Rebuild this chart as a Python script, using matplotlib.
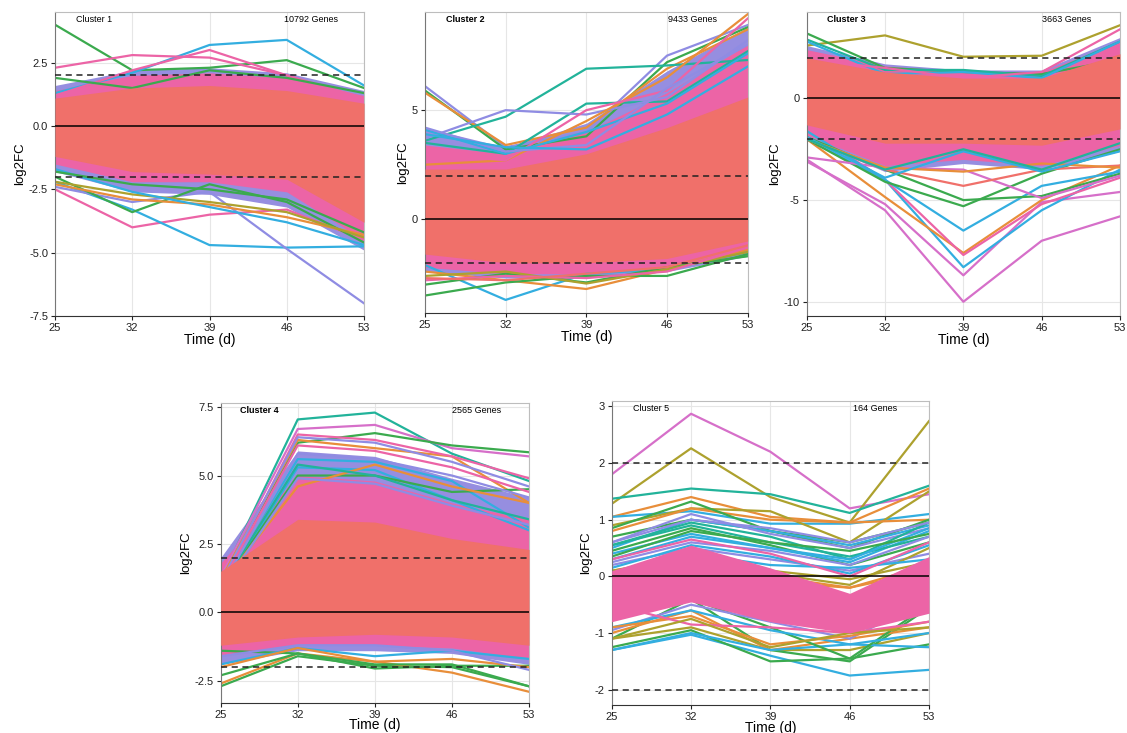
import matplotlib
matplotlib.use("Agg")
import matplotlib.pyplot as plt

plt.rcParams['font.family'] = ['Liberation Sans', 'DejaVu Sans']
plt.rcParams['axes.unicode_minus'] = False

time = [25, 32, 39, 46, 53]

# palette
SALMON = '#F0706A'
PINK = '#EC64A6'
PURPLE = '#968EE0'
col = {'g': '#3BAA4E', 'o': '#E88E3A', 'y': '#ADA12E', 't': '#22B39A',
       'c': '#33AEE0', 'p': '#8F8CE3', 'k': '#EC64A6', 'm': '#D66FC9', 's': '#F0706A'}

# ---- Cluster 1 ----
c1_core_lo = [-1.2, -1.8, -1.9, -2.1, -3.8]
c1_core_hi = [1.1, 1.5, 1.6, 1.4, 0.9]
c1_edge_lo = [-1.5, -2.2, -2.2, -2.6, -4.5]
c1_edge_hi = [1.4, 2.0, 2.1, 1.9, 1.2]
c1_outer_lo = [-1.8, -2.6, -2.7, -3.2, -4.9]
c1_outer_hi = [1.6, 2.2, 2.3, 2.1, 1.4]
c1_lines = [[4.0, 2.2, 2.3, 2.6, 1.5], [1.3, 2.1, 3.2, 3.4, 1.6], [2.3, 2.8, 2.7, 2.0, 1.1],
            [1.2, 2.2, 3.0, 2.0, 1.0], [1.9, 1.5, 2.2, 1.9, 1.3],
            [-2.5, -4.0, -3.5, -3.3, -4.5], [-2.2, -3.3, -4.7, -4.8, -4.75],
            [-2.4, -3.0, -2.6, -4.85, -7.0], [-2.0, -3.4, -2.3, -3.0, -4.6],
            [-2.3, -2.9, -3.1, -3.6, -4.3], [-2.2, -2.7, -3.0, -3.4, -4.4],
            [-1.7, -2.6, -3.2, -3.8, -4.7], [-1.8, -2.3, -2.5, -2.9, -4.2]]
c1_colors = ['g', 'c', 'k', 'k', 'g', 'k', 'c', 'p', 'g', 'o', 'y', 'c', 'g']

# ---- Cluster 2 ----
c2_core_lo = [-1.6, -2.0, -2.0, -1.8, -1.0]
c2_core_hi = [2.3, 2.3, 3.0, 4.2, 5.6]
c2_edge_lo = [-2.2, -2.5, -2.5, -2.2, -1.5]
c2_edge_hi = [3.4, 3.0, 4.0, 5.8, 8.0]
c2_outer_lo = [-2.4, -2.7, -2.7, -2.4, -1.7]
c2_outer_hi = [4.2, 3.3, 4.4, 6.8, 8.8]
c2_lines = [[6.1, 3.3, 4.0, 7.5, 8.9], [5.9, 3.2, 3.8, 7.2, 8.8], [5.8, 3.4, 4.2, 6.9, 8.7],
            [3.6, 4.7, 6.9, 7.05, 7.3], [3.5, 3.0, 5.3, 5.4, 7.7], [3.7, 5.0, 4.8, 5.6, 8.2],
            [2.5, 2.7, 4.5, 6.5, 9.4], [3.0, 2.7, 5.0, 5.9, 9.2], [4.1, 3.0, 4.0, 5.3, 7.6],
            [4.2, 3.1, 3.4, 6.0, 8.0], [3.9, 3.3, 3.2, 4.8, 7.0],
            [-2.1, -3.7, -2.5, -2.3, -1.5], [-2.4, -2.8, -3.2, -2.3, -1.4],
            [-3.5, -2.9, -2.6, -2.6, -1.6], [-3.0, -2.5, -2.9, -2.2, -1.7],
            [-2.6, -2.4, -2.95, -2.3, -1.5], [-2.8, -2.6, -2.7, -2.4, -1.3],
            [-2.7, -2.8, -2.5, -2.2, -1.2]]
c2_colors = ['p', 'g', 'o', 't', 't', 'p', 'o', 'k', 'c', 'p', 'c',
             'c', 'o', 'g', 'g', 'y', 'k', 's']

# ---- Cluster 3 ----
c3_core_lo = [-1.3, -2.2, -2.2, -2.3, -1.5]
c3_core_hi = [2.0, 1.3, 1.0, 1.0, 2.2]
c3_edge_lo = [-1.8, -3.3, -3.0, -3.3, -2.3]
c3_edge_hi = [2.4, 1.6, 1.3, 1.3, 2.8]
c3_outer_lo = [-2.0, -3.6, -3.2, -3.5, -2.6]
c3_outer_hi = [2.6, 1.7, 1.4, 1.4, 3.0]
c3_lines = [[2.6, 3.1, 2.05, 2.1, 3.6], [3.2, 1.5, 1.3, 1.2, 1.9], [2.9, 1.4, 1.4, 1.1, 2.8],
            [2.8, 1.2, 1.3, 1.0, 2.8], [1.9, 1.5, 1.0, 1.3, 3.4],
            [-3.0, -5.5, -10.0, -7.0, -5.8], [-3.1, -5.2, -8.7, -5.1, -4.6],
            [-2.0, -4.0, -8.3, -5.5, -3.5], [-2.0, -4.85, -7.6, -5.0, -3.3],
            [-1.5, -4.0, -7.7, -5.2, -3.9], [-1.6, -4.0, -6.5, -4.3, -3.6],
            [-2.0, -4.1, -5.3, -3.7, -2.5], [-1.9, -3.5, -5.0, -4.8, -3.7],
            [-2.9, -3.4, -3.5, -4.9, -3.8], [-2.0, -3.5, -4.3, -3.5, -3.3],
            [-2.0, -3.4, -3.6, -3.2, -3.4], [-1.9, -3.9, -2.6, -3.6, -2.6],
            [-2.0, -3.5, -2.5, -3.5, -2.2]]
c3_colors = ['y', 'g', 't', 'c', 'k', 'm', 'm', 'c', 'o', 'k', 'c', 'g', 'g',
             'm', 's', 'o', 'c', 't']

# ---- Cluster 4 ----
c4_core_lo = [-1.2, -0.9, -0.8, -0.9, -1.2]
c4_core_hi = [1.5, 3.4, 3.3, 2.7, 2.3]
c4_edge_lo = [-1.6, -1.2, -1.2, -1.3, -1.7]
c4_edge_hi = [1.8, 5.0, 4.8, 4.0, 3.4]
c4_outer_lo = [-1.9, -1.4, -1.4, -1.5, -1.9]
c4_outer_hi = [2.0, 5.9, 5.7, 4.9, 4.2]
c4_lines = [[1.2, 7.05, 7.3, 5.8, 4.8], [1.3, 6.7, 6.85, 6.0, 5.7], [1.0, 6.2, 6.55, 6.1, 5.85],
            [1.2, 6.3, 6.0, 5.7, 4.0], [1.0, 6.5, 6.3, 5.7, 4.9], [1.1, 6.4, 6.2, 5.5, 4.6],
            [1.0, 5.6, 5.5, 4.8, 3.1], [0.8, 5.3, 5.2, 4.1, 3.0], [0.9, 5.0, 5.0, 4.4, 4.5],
            [1.0, 4.6, 5.4, 4.6, 4.0], [0.9, 5.4, 5.0, 4.1, 3.4], [0.8, 4.9, 4.7, 3.9, 3.2],
            [1.0, 6.1, 5.9, 5.3, 4.4], [0.9, 5.8, 5.6, 5.0, 4.2],
            [-2.7, -1.6, -1.95, -2.0, -2.7], [-2.6, -1.5, -1.8, -2.2, -2.9],
            [-2.3, -1.5, -2.05, -1.95, -1.95], [-1.4, -1.5, -1.9, -1.9, -2.7],
            [-1.9, -1.3, -1.6, -1.4, -1.7], [-2.0, -1.3, -1.8, -1.7, -2.0],
            [-1.6, -1.2, -1.2, -1.4, -2.1]]
c4_colors = ['t', 'm', 'g', 'o', 'k', 'p', 'c', 'c', 'g', 'o', 't', 'p', 'k', 'p',
             'g', 'o', 'g', 'g', 'c', 'o', 'p']

# ---- Cluster 5 ----
c5_core_lo = [-0.8, -0.45, -0.8, -1.0, -0.65]
c5_core_hi = [0.1, 0.55, 0.15, -0.3, 0.35]
c5_lines = [[1.8, 2.87, 2.2, 1.2, 1.45], [1.28, 2.26, 1.4, 0.95, 2.74], [1.37, 1.55, 1.45, 1.12, 1.6],
            [1.05, 1.4, 1.05, 0.95, 1.55], [1.05, 1.15, 0.93, 0.93, 1.1], [0.9, 1.2, 1.15, 0.6, 1.5],
            [0.8, 1.2, 1.0, 0.95, 1.0], [0.85, 1.32, 0.8, 0.5, 1.0], [0.7, 1.0, 0.8, 0.6, 0.95],
            [0.5, 1.0, 0.8, 0.55, 0.9], [0.6, 1.1, 0.75, 0.5, 0.85], [0.55, 0.95, 0.7, 0.3, 0.95],
            [0.45, 0.85, 0.55, 0.2, 0.6], [0.3, 0.7, 0.5, 0.25, 0.8], [0.1, 0.3, 0.0, -0.2, 0.2],
            [0.2, 0.5, 0.3, 0.1, 0.4], [-0.05, 0.15, 0.05, -0.15, 0.5], [0.05, 0.4, 0.2, 0.15, 0.3],
            [0.0, 0.2, -0.1, -0.2, 0.1],
            [0.55, 0.9, 0.6, 0.35, 0.7], [0.4, 0.75, 0.5, 0.3, 0.85], [0.25, 0.6, 0.45, 0.2, 0.7],
            [0.35, 0.8, 0.6, 0.45, 0.75], [0.15, 0.55, 0.35, 0.05, 0.55], [0.6, 1.0, 0.85, 0.6, 0.95],
            [0.1, 0.35, 0.1, -0.05, 0.25], [0.3, 0.65, 0.4, 0.0, 0.6],
            [-1.3, -1.03, -1.4, -1.75, -1.65], [-1.25, -0.95, -1.5, -1.45, -1.2],
            [-1.1, -0.9, -1.3, -1.3, -1.0], [-1.1, -0.4, -1.3, -1.5, -0.55],
            [-1.0, -0.6, -1.3, -1.1, -0.9], [-1.3, -1.0, -1.3, -1.2, -1.25],
            [-0.6, -0.4, -0.9, -1.45, -0.5], [-0.95, -0.5, -0.8, -1.1, -0.4],
            [-0.9, -0.6, -0.95, -1.2, -1.0], [-0.9, -0.7, -1.2, -1.05, -0.8],
            [-0.5, -0.85, -0.9, -1.0, -0.8], [-1.1, -0.75, -1.25, -1.0, -0.9],
            [-0.3, -0.2, -0.6, -0.9, -0.3]]
c5_colors = ['m', 'y', 't', 'o', 'c', 'y', 'o', 'g', 'g', 'c', 'p', 't', 'g', 'c', 'o',
             'p', 'y', 'c', 'o',
             't', 'c', 'p', 'g', 'c', 'p', 'y', 'k',
             'c', 'g', 'y', 'g', 'o', 'c', 'g', 'p', 'c', 'o', 'k', 'y', 'p']


def draw_panel(ax, name, genes, lines, colors, core, edge=None, outer=None,
               ylim=None, yticks=None, yfmt='{:.1f}', bold=True, xpad=0):
    if outer is not None:
        ax.fill_between(time, outer[0], outer[1], color=PURPLE, lw=0, zorder=1)
    if edge is not None:
        ax.fill_between(time, edge[0], edge[1], color=PINK, lw=0, zorder=1.5)
    for vals, c in zip(lines, colors):
        ax.plot(time, vals, color=col[c], lw=1.6, zorder=2)
    core_col = SALMON if edge is not None else PINK
    ax.fill_between(time, core[0], core[1], color=core_col, lw=0, zorder=3)
    ax.axhline(0, color='black', lw=1.1, zorder=4)
    ax.axhline(2, color='#222222', lw=1.1, ls=(0, (4, 3)), zorder=4)
    ax.axhline(-2, color='#222222', lw=1.1, ls=(0, (4, 3)), zorder=4)
    ax.set_xlim(25, 53)
    ax.set_ylim(*ylim)
    ax.set_xticks(time)
    ax.set_yticks(yticks)
    ax.set_yticklabels([yfmt.format(v) for v in yticks])
    ax.grid(True, color='#e6e6e6', lw=0.8, zorder=0)
    ax.set_axisbelow(True)
    for s in ['top', 'right']:
        ax.spines[s].set_color('#bdbdbd')
    ax.spines['left'].set_color('#777777')
    ax.spines['bottom'].set_color('#333333')
    ax.tick_params(labelsize=8, length=3, colors='#222222', pad=2)
    ax.set_xlabel('Time (d)', fontsize=10, labelpad=xpad)
    ax.set_ylabel('log2FC', fontsize=9.5, labelpad=2)
    ax.text(0.125, 0.975, name, transform=ax.transAxes, ha='center', va='center',
            fontsize=6.5, fontweight='bold' if bold else 'normal', zorder=6)
    ax.text(0.83, 0.975, genes, transform=ax.transAxes, ha='center', va='center',
            fontsize=6.5, zorder=6)


fig = plt.figure(figsize=(11.27, 7.33), dpi=100)
ax1 = fig.add_axes([0.0488, 0.5689, 0.2742, 0.4147])
ax2 = fig.add_axes([0.3771, 0.5730, 0.2863, 0.4106])
ax3 = fig.add_axes([0.7158, 0.5689, 0.2780, 0.4147])
ax4 = fig.add_axes([0.1958, 0.0413, 0.2736, 0.4089])
ax5 = fig.add_axes([0.5428, 0.0382, 0.2815, 0.4151])

draw_panel(ax1, 'Cluster 1', '10792 Genes', c1_lines, c1_colors,
           (c1_core_lo, c1_core_hi), (c1_edge_lo, c1_edge_hi), (c1_outer_lo, c1_outer_hi),
           ylim=(-7.5, 4.5), yticks=[-7.5, -5.0, -2.5, 0.0, 2.5], bold=False)
draw_panel(ax2, 'Cluster 2', '9433 Genes', c2_lines, c2_colors,
           (c2_core_lo, c2_core_hi), (c2_edge_lo, c2_edge_hi), (c2_outer_lo, c2_outer_hi),
           ylim=(-4.3, 9.5), yticks=[0, 5], yfmt='{:d}')
draw_panel(ax3, 'Cluster 3', '3663 Genes', c3_lines, c3_colors,
           (c3_core_lo, c3_core_hi), (c3_edge_lo, c3_edge_hi), (c3_outer_lo, c3_outer_hi),
           ylim=(-10.7, 4.25), yticks=[-10, -5, 0], yfmt='{:d}')
draw_panel(ax4, 'Cluster 4', '2565 Genes', c4_lines, c4_colors,
           (c4_core_lo, c4_core_hi), (c4_edge_lo, c4_edge_hi), (c4_outer_lo, c4_outer_hi),
           ylim=(-3.3, 7.65), yticks=[-2.5, 0.0, 2.5, 5.0, 7.5], xpad=-1)
draw_panel(ax5, 'Cluster 5', '164 Genes', c5_lines, c5_colors,
           (c5_core_lo, c5_core_hi),
           ylim=(-2.27, 3.1), yticks=[-2, -1, 0, 1, 2, 3], yfmt='{:d}', bold=False, xpad=-1)

fig.savefig('out.png', dpi=100)
